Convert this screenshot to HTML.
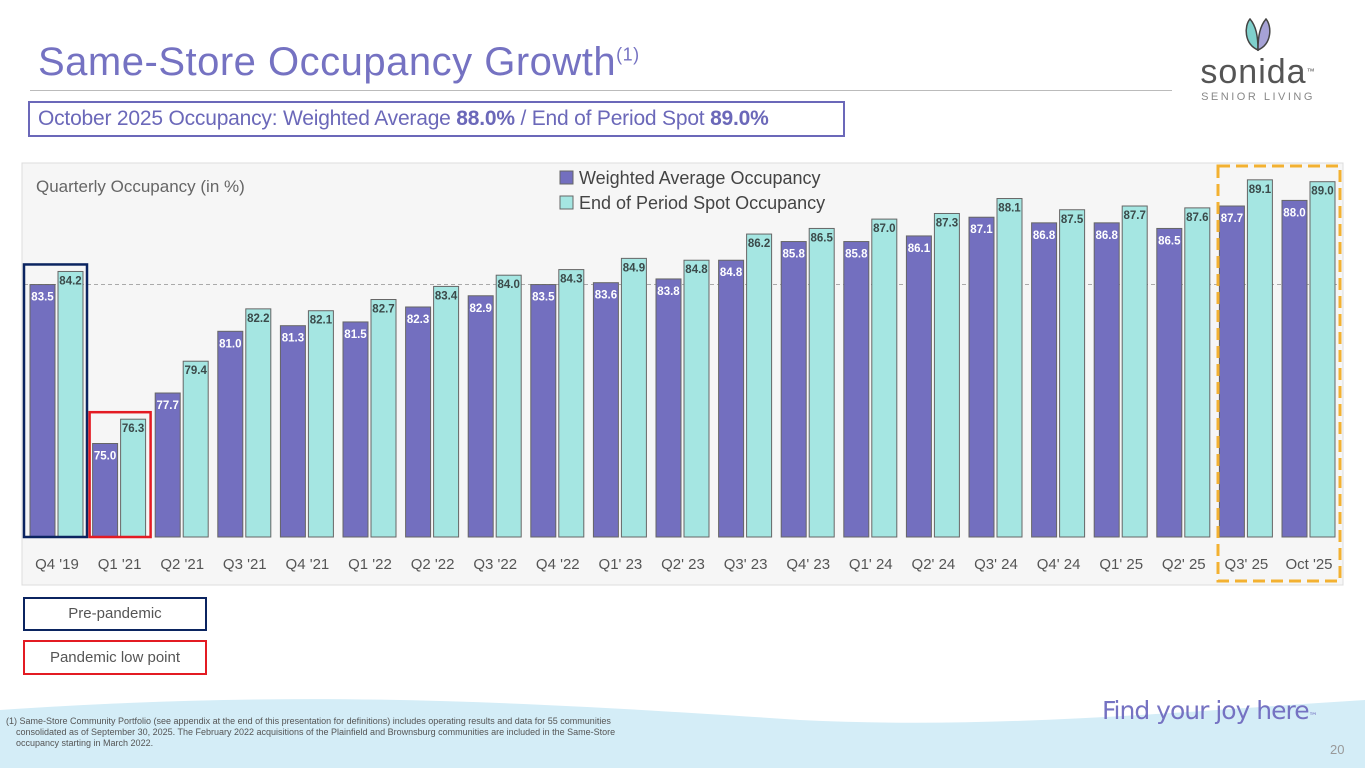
<!DOCTYPE html>
<html><head><meta charset="utf-8"><style>
body{margin:0;width:1365px;height:768px;overflow:hidden;background:#fff;font-family:"Liberation Sans",sans-serif;position:relative}
.abs{position:absolute}
</style></head><body>
<div class="abs" style="left:38px;top:40px;font-size:40px;color:#7572c2;letter-spacing:0.5px">Same-Store Occupancy Growth<sup style="font-size:18px">(1)</sup></div>
<div class="abs" style="left:30px;top:90px;width:1142px;height:1px;background:#bbb"></div>
<div class="abs" style="left:1190px;top:16px;width:136px;text-align:center">
<svg width="40" height="36" viewBox="0 0 40 36"><path d="M20 34 C6 28 6 10 12 3 C18 10 20 20 20 34Z" fill="#7fd0cc" stroke="#444" stroke-width="1.5"/><path d="M20 34 C34 28 34 10 28 3 C22 10 20 20 20 34Z" fill="#a6a2d6" stroke="#444" stroke-width="1.5"/></svg>
<div style="font-size:34px;color:#555;line-height:30px;letter-spacing:1px">sonida<span style="font-size:8px;vertical-align:top">™</span></div>
<div style="font-size:11px;color:#888;letter-spacing:2.5px;margin-top:4px;white-space:nowrap">SENIOR LIVING</div></div>
<div class="abs" style="left:28px;top:101px;width:805px;height:32px;border:2px solid #6b68b9;color:#6b68b9;font-size:21px;line-height:32px;padding-left:8px;box-sizing:content-box;letter-spacing:-0.2px">October 2025 Occupancy: Weighted Average <b>88.0%</b> / End of Period Spot <b>89.0%</b></div>
<svg class="abs" style="left:0;top:0" width="1365" height="768" id="chart">
<rect x="22" y="163" width="1321" height="422" fill="#f6f6f6" stroke="#ddd"/>
<text x="36" y="192" font-size="17" fill="#666" font-family="Liberation Sans">Quarterly Occupancy (in %)</text>
<rect x="560" y="171" width="13" height="13" fill="#736fbf" stroke="#666"/>
<text x="579" y="184" font-size="18" fill="#444" font-family="Liberation Sans">Weighted Average Occupancy</text>
<rect x="560" y="196" width="13" height="13" fill="#a5e6e2" stroke="#666"/>
<text x="579" y="209" font-size="18" fill="#444" font-family="Liberation Sans">End of Period Spot Occupancy</text>
<g id="marks"></g>
</svg>
<div class="abs" style="left:23px;top:597px;width:180px;height:30px;border:2px solid #0b2460;font-size:15px;line-height:30px;text-align:center;color:#555">Pre-pandemic</div>
<div class="abs" style="left:23px;top:640px;width:180px;height:31px;border:2px solid #e31b23;font-size:15px;line-height:31px;text-align:center;color:#555">Pandemic low point</div>
<svg class="abs" style="left:0;top:690px" width="1365" height="78"><path d="M0 20 C300 0 500 10 800 30 C1000 40 1200 20 1365 10 L1365 78 L0 78Z" fill="#d4edf7"/></svg>
<div class="abs" style="left:6px;top:716px;width:720px;font-size:9px;color:#555;line-height:11px">(1) Same-Store Community Portfolio (see appendix at the end of this presentation for definitions) includes operating results and data for 55 communities<br>&nbsp;&nbsp;&nbsp;&nbsp;consolidated as of September 30, 2025. The February 2022 acquisitions of the Plainfield and Brownsburg communities are included in the Same-Store<br>&nbsp;&nbsp;&nbsp;&nbsp;occupancy starting in March 2022.</div>
<div class="abs" style="left:1102px;top:696px;font-size:25px;color:#7572c2;font-family:'DejaVu Sans',sans-serif;letter-spacing:-1px">Find your joy here<span style="font-size:9px">™</span></div>
<div class="abs" style="left:1330px;top:742px;font-size:13px;color:#999">20</div>
<script>
const categories=["Q4 '19","Q1 '21","Q2 '21","Q3 '21","Q4 '21","Q1 '22","Q2 '22","Q3 '22","Q4 '22","Q1' 23","Q2' 23","Q3' 23","Q4' 23","Q1' 24","Q2' 24","Q3' 24","Q4' 24","Q1' 25","Q2' 25","Q3' 25","Oct '25"];
const weightedAvg=[83.5,75.0,77.7,81.0,81.3,81.5,82.3,82.9,83.5,83.6,83.8,84.8,85.8,85.8,86.1,87.1,86.8,86.8,86.5,87.7,88.0];
const spotOcc=[84.2,76.3,79.4,82.2,82.1,82.7,83.4,84.0,84.3,84.9,84.8,86.2,86.5,87.0,87.3,88.1,87.5,87.7,87.6,89.1,89.0];
const refLevel=83.5;
const NS="http://www.w3.org/2000/svg";
const g=document.getElementById('marks');
const y=v=>537-(v-70)*18.7;
const x=i=>30+i*62.6;
function mk(t,a){const e=document.createElementNS(NS,t);for(const k in a)e.setAttribute(k,a[k]);g.appendChild(e);return e;}
const ref=mk('line',{x1:24,x2:1341,y1:y(refLevel),y2:y(refLevel),stroke:'#aaa','stroke-dasharray':'4,3'});


categories.forEach((c,i)=>{
 const b1=mk('rect',{x:x(i),y:y(weightedAvg[i]),width:25,height:537-y(weightedAvg[i]),fill:'#736fbf',stroke:'#666','stroke-width':1});
 
 
 const b2=mk('rect',{x:x(i)+28,y:y(spotOcc[i]),width:25,height:537-y(spotOcc[i]),fill:'#a5e6e2',stroke:'#666','stroke-width':1});
 
 
 const t1=mk('text',{x:x(i)+12.5,y:y(weightedAvg[i])+16,'text-anchor':'middle','font-size':11.5,'font-weight':'bold',fill:'#fff','font-family':'Liberation Sans'});
 t1.textContent=weightedAvg[i].toFixed(1);
 
 
 const t2=mk('text',{x:x(i)+40.5,y:y(spotOcc[i])+13,'text-anchor':'middle','font-size':11.5,'font-weight':'bold',fill:'#3b4a4a','font-family':'Liberation Sans'});
 t2.textContent=spotOcc[i].toFixed(1);
 
 
 const t3=mk('text',{x:x(i)+27,y:569,'text-anchor':'middle','font-size':15,fill:'#555','font-family':'Liberation Sans'});
 t3.textContent=c;
 
 
});
const bx1=mk('rect',{x:24,y:y(spotOcc[0])-7,width:63,height:537-y(spotOcc[0])+7,fill:'none',stroke:'#0b2460','stroke-width':2.5});


const bx2=mk('rect',{x:x(1)-3,y:y(spotOcc[1])-7,width:61,height:537-y(spotOcc[1])+7,fill:'none',stroke:'#e31b23','stroke-width':2.5});


const bx3=mk('rect',{x:1218,y:166,width:122,height:415,fill:'none',stroke:'#f3b131','stroke-width':3,'stroke-dasharray':'12,6'});


</script>
</body></html>
